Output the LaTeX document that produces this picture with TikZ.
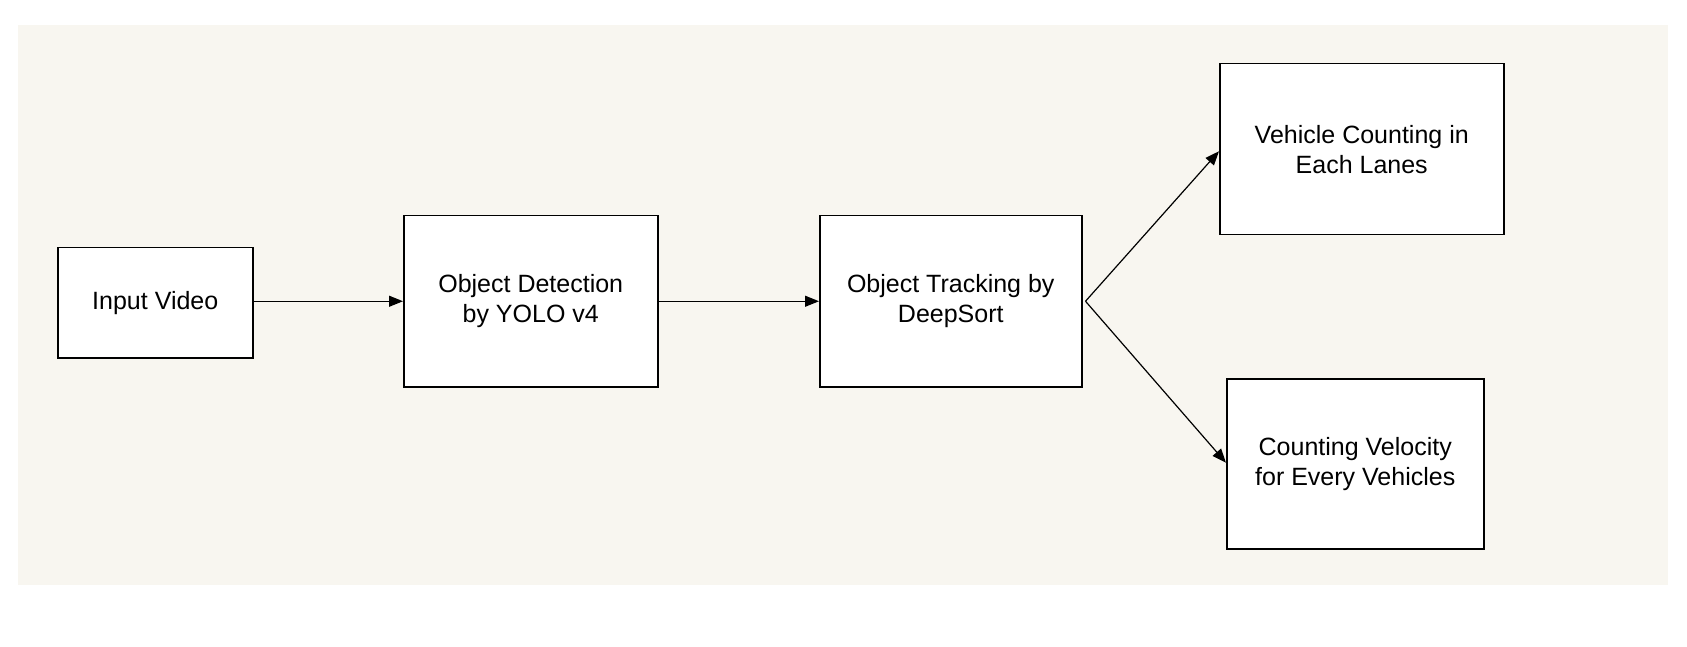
\documentclass[tikz,border=0pt]{standalone}
\usepackage{fontspec}
\setmainfont{Liberation Sans}
\usetikzlibrary{arrows.meta,calc}
\definecolor{bg}{HTML}{F8F6F0}
\begin{document}
\begin{tikzpicture}[x=1pt,y=-1pt,
  box/.style={draw,line width=1.5pt,fill=white,align=center,font=\fontsize{25}{30}\selectfont,anchor=north west,inner sep=0pt},
  arr/.style={line width=1.2pt,-{Triangle[length=14pt,width=11pt]}}]
\useasboundingbox (0,0) rectangle (1687,647);
\fill[white] (0,0) rectangle (1687,647);
\fill[bg] (18,25) rectangle (1668,585);
\node[box,minimum width=195pt,minimum height=110pt] (a) at (57,247) {Input Video};
\node[box,minimum width=254pt,minimum height=171pt] (b) at (403,215) {Object Detection\\by YOLO v4};
\node[box,minimum width=262pt,minimum height=171pt] (c) at (819,215) {Object Tracking by\\DeepSort};
\node[box,minimum width=284pt,minimum height=171pt] (d) at (1219,63) {Vehicle Counting in\\Each Lanes};
\node[box,minimum width=257pt,minimum height=170pt] (e) at (1226,378) {Counting Velocity\\for Every Vehicles};
\coordinate (s) at ($(c.east)+(3,0)$);
\coordinate (dt) at ($(d.west)+(0,2)$);
\coordinate (et) at ($(e.west)+(0,-1)$);
\draw[arr] (a.east |- b.west) -- (b.west);
\draw[arr] (b.east) -- (c.west);
\draw[arr] (s) -- (dt);
\draw[arr] (s) -- (et);
\end{tikzpicture}
\end{document}
